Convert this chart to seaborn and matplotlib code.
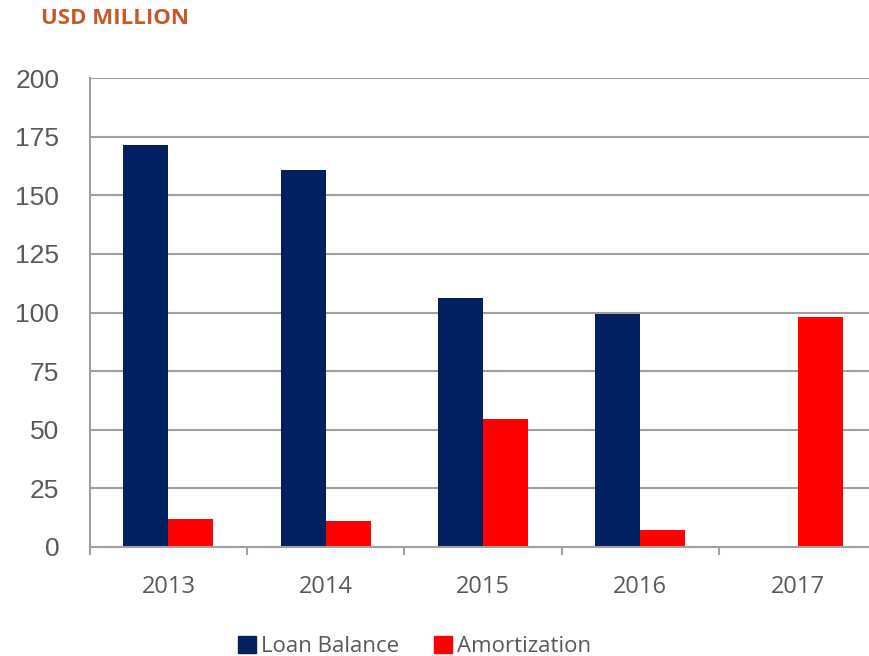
import matplotlib
matplotlib.use("Agg")
import matplotlib.pyplot as plt
import seaborn as sns
import pandas as pd
import numpy as np
from matplotlib.patches import Patch
from matplotlib.ticker import FixedLocator

years = ["2013", "2014", "2015", "2016", "2017"]
loan_balance = [171.5, 161.0, 106.0, 99.5, 0.0]
amortization = [12.0, 11.0, 54.5, 7.3, 98.0]
series_names = ["Loan Balance", "Amortization"]
y_ticks = [0, 25, 50, 75, 100, 125, 150, 175, 200]

df = pd.DataFrame({
    "year": years * 2,
    "value": loan_balance + amortization,
    "series": [series_names[0]] * len(years) + [series_names[1]] * len(years),
})

navy = "#002060"
red = "#FF0000"
grid_gray = "#A0A0A0"
text_gray = "#595959"

sns.set_theme(style="white")
plt.rcParams["font.family"] = ["Liberation Sans", "DejaVu Sans"]

fig = plt.figure(figsize=(8.69, 6.56), dpi=100)
# plot area runs slightly past the right edge of the canvas
ax = fig.add_axes([0.1033, 0.1662, 0.905, 0.7148])

sns.barplot(data=df, x="year", y="value", hue="series",
            palette=[navy, red], width=0.572, gap=0, ax=ax,
            legend=False, saturation=1, linewidth=0, edgecolor="none")

ax.set_ylim(0, 200)
ax.set_xlim(-0.5, len(years) - 0.5)
ax.set_yticks(y_ticks)
ax.yaxis.grid(True, color=grid_gray, linewidth=1.5)
ax.set_axisbelow(True)
ax.set_xlabel("")
ax.set_ylabel("")

for s in ["top", "right"]:
    ax.spines[s].set_visible(False)
for s in ["left", "bottom"]:
    ax.spines[s].set_color(grid_gray)
    ax.spines[s].set_linewidth(1.5)

ax.tick_params(axis="y", which="major", length=6, width=1.5, color=grid_gray,
               pad=16, labelsize=19, labelcolor=text_gray)
ax.tick_params(axis="x", which="major", length=0, pad=20, labelsize=17,
               labelcolor=text_gray)
ax.xaxis.set_minor_locator(FixedLocator(np.arange(-0.5, len(years), 1.0)))
ax.tick_params(axis="x", which="minor", length=6, width=1.5, color=grid_gray,
               bottom=True)
for lbl in ax.get_xticklabels():
    lbl.set_fontfamily("Open Sans")

fig.text(0.047, 0.988, "USD MILLION", color="#C55A28", fontsize=16,
         fontweight="bold", family="Open Sans", va="top", ha="left")

handles = [Patch(facecolor=navy, edgecolor=navy), Patch(facecolor=red, edgecolor=red)]
leg = fig.legend(handles, series_names, loc="center", bbox_to_anchor=(0.477, 0.014),
                 ncol=2, frameon=False, handlelength=0.8, handleheight=0.8,
                 handletextpad=0.2, columnspacing=1.6,
                 prop={"family": "Open Sans", "size": 16})
for t in leg.get_texts():
    t.set_color(text_gray)

fig.savefig("out.png", dpi=100)
